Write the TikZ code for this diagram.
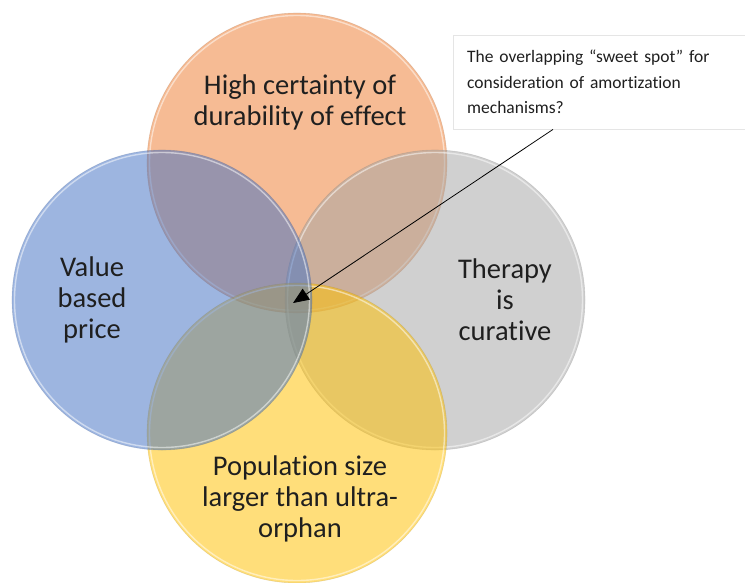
\documentclass[tikz,border=0pt]{standalone}
\usepackage{fontspec}
\setmainfont{Carlito}[Ligatures=NoCommon]
\usetikzlibrary{arrows.meta,positioning}

\definecolor{accblue}{HTML}{4472C4}
\definecolor{accorange}{HTML}{ED7D31}
\definecolor{accgray}{HTML}{A5A5A5}
\definecolor{accyellow}{HTML}{FFC000}

\begin{document}
\begin{tikzpicture}[x=1pt, y=-1pt,
    venn/.style={fill=#1, fill opacity=0.52, draw=#1!60!black, draw opacity=0.2, line width=0.6pt},
    rim/.style={draw=white, draw opacity=0.5, line width=1.4pt},
    circtext/.style={align=center, text=black!88, font=\fontsize{28.5}{31}\selectfont}]
    \useasboundingbox (0,0) rectangle (745,582);

    % the four sets, back to front
    \foreach \c/\cx/\cy in {accorange/297/163, accgray/435/300, accyellow/297/433, accblue/162/300} {
        \path[venn=\c] (\cx,\cy) circle[radius=150pt];
        \path[rim] (\cx,\cy) circle[radius=147.5pt];
    }

    % set labels
    \node[circtext] (durable) at (300,102) {High certainty of\\durability of effect};
    \node[circtext] (value) at (92,300) {Value\\based\\price};
    \node[circtext] (cure) at (505,300) {Therapy\\is\\curative};
    \node[circtext] (popsize) at (300,499) {Population size\\larger than ultra-\\orphan};

    % callout
    \node[draw=black!10, fill=white, anchor=north west, minimum height=94pt,
          text width=280pt, inner xsep=14pt, align=left, text=black!88,
          font=\fontsize{17.5}{25.5}\selectfont] (note) at (453,35)
        {The overlapping \char"201C sweet spot\char"201D{} for\\consideration of amortization\\mechanisms?};
    \coordinate (spot) at (293,303);
    \draw[-{Triangle[length=16pt,width=13pt]}, line width=0.8pt] (note.south west) ++(100,0) -- (spot);
\end{tikzpicture}
\end{document}
